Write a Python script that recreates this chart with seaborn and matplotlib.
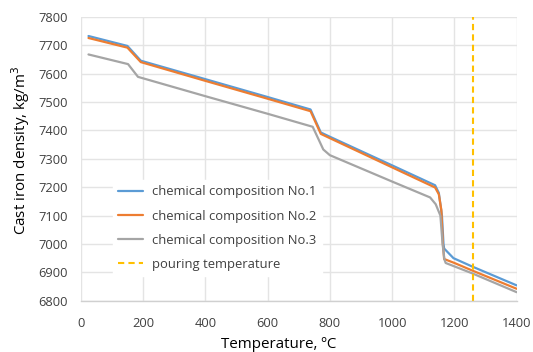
import matplotlib
matplotlib.use("Agg")
import matplotlib.pyplot as plt
import seaborn as sns
import pandas as pd
from matplotlib.lines import Line2D

# ---- data ----
temp_1 = [25, 150, 193, 400, 600, 738, 771, 800, 1000, 1138, 1150, 1160, 1165, 1167, 1197, 1256, 1400]
dens_1 = [7733, 7698, 7646, 7581, 7518, 7474, 7393, 7378, 7277, 7207, 7180, 7100, 7000, 6984, 6950, 6921, 6854]

temp_2 = [25, 150, 193, 400, 600, 738, 771, 800, 1000, 1138, 1150, 1158, 1163, 1167, 1200, 1256, 1400]
dens_2 = [7726, 7692, 7641, 7575, 7512, 7468, 7388, 7373, 7270, 7199, 7175, 7120, 7000, 6947, 6933, 6907, 6842]

temp_3 = [25, 152, 184, 400, 600, 745, 779, 800, 1000, 1122, 1140, 1155, 1162, 1168, 1172, 1256, 1400]
dens_3 = [7668, 7634, 7589, 7521, 7459, 7413, 7333, 7313, 7220, 7164, 7140, 7100, 7000, 6945, 6933, 6897, 6830]

series_names = ["chemical composition No.1", "chemical composition No.2", "chemical composition No.3"]
pour_temp = [1260]
pour_label = "pouring temperature"

x_ticks = [0, 200, 400, 600, 800, 1000, 1200, 1400]
y_ticks = [6800, 6900, 7000, 7100, 7200, 7300, 7400, 7500, 7600, 7700, 7800]

colors = ["#5B9BD5", "#ED7D31", "#A5A5A5"]
pour_color = "#FFC000"

# ---- build long-form table ----
frames = []
for name, t, d in zip(series_names, [temp_1, temp_2, temp_3], [dens_1, dens_2, dens_3]):
    frames.append(pd.DataFrame({"T": t, "rho": d, "series": name}))
df = pd.concat(frames, ignore_index=True)

sns.set_style("whitegrid")
plt.rcParams['font.family'] = ['Open Sans', 'DejaVu Sans']

fig = plt.figure(figsize=(5.33, 3.52), dpi=100)
ax = fig.add_axes([0.1514, 0.1457, 0.818, 0.8060])

sns.lineplot(data=df, x="T", y="rho", hue="series", palette=colors,
             hue_order=series_names, linewidth=1.6, ax=ax, legend=False,
             estimator=None, sort=False)
for xv in pour_temp:
    ax.axvline(xv, color=pour_color, linestyle=(0, (3, 2)), linewidth=1.5)

ax.set_xlim(x_ticks[0], x_ticks[-1])
ax.set_ylim(y_ticks[0], y_ticks[-1])
ax.set_xticks(x_ticks)
ax.set_yticks(y_ticks)
ax.tick_params(axis='both', labelsize=9.3, colors="#404040", length=0)
ax.tick_params(axis='x', pad=12)
ax.tick_params(axis='y', pad=9)
ax.grid(True, color="#E4E4E4", linewidth=1.0)
for s in ["top", "right", "left"]:
    ax.spines[s].set_visible(False)
ax.spines["bottom"].set_color("#D0D0D0")
ax.spines["bottom"].set_linewidth(1.0)

ax.set_xlabel("Temperature, \u00baC", fontsize=10.9, color="#000000", labelpad=5)
ax.set_ylabel("Cast iron density, kg/m$^3$", fontsize=10.9, color="#000000", labelpad=5)
ax.xaxis.label.set_x(0.454)
ax.yaxis.label.set_y(0.531)

handles = [Line2D([], [], color=c, linewidth=1.6) for c in colors]
handles.append(Line2D([], [], color=pour_color, linestyle=(0, (3, 2)), linewidth=1.5))
leg = ax.legend(handles, series_names + [pour_label], loc="upper left",
                bbox_to_anchor=(0.0736, 0.425), frameon=True, fontsize=9.4,
                labelspacing=0.86, handlelength=1.9, handletextpad=0.74,
                borderpad=0.4, borderaxespad=0.0, fancybox=False)
leg.get_frame().set_edgecolor("white")
leg.get_frame().set_facecolor("white")
leg.get_frame().set_alpha(1.0)
for t in leg.get_texts():
    t.set_color("#404040")

fig.savefig("out.png", dpi=100)
